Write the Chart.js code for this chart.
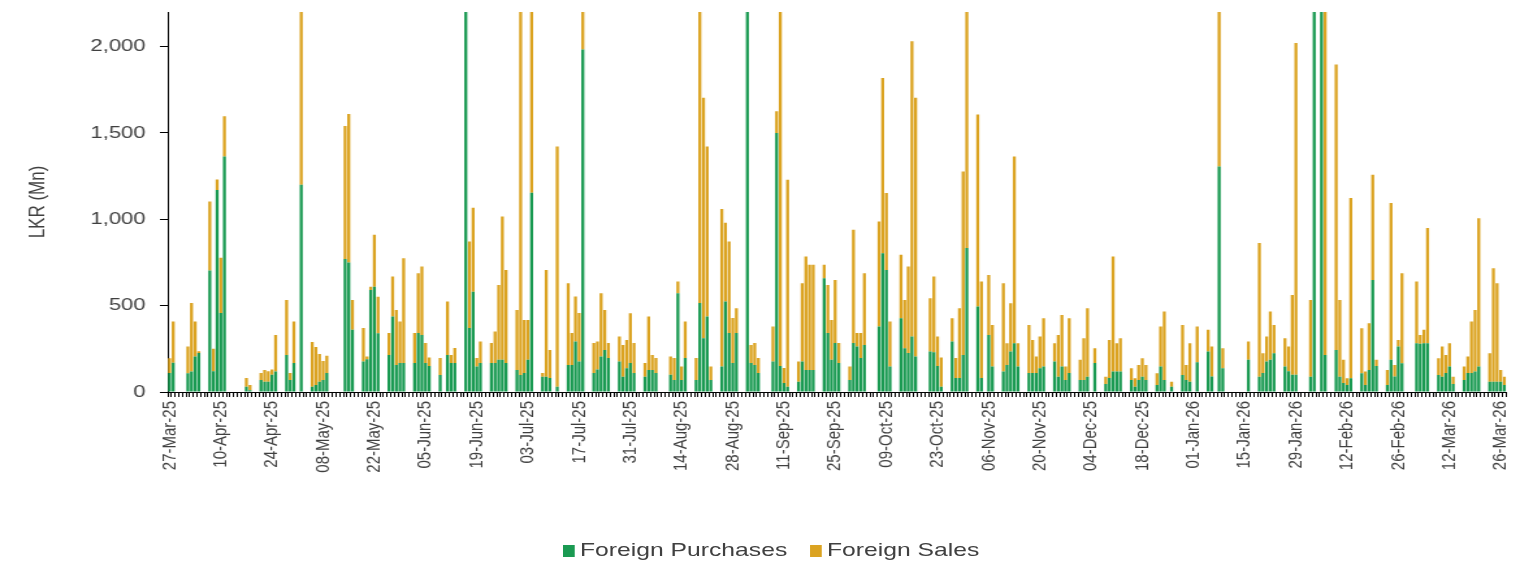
<!DOCTYPE html>
<html>
<head>
<meta charset="utf-8">
<script src="https://cdn.jsdelivr.net/npm/chart.js@4.4.1/dist/chart.umd.min.js"></script>
<style>
html,body{margin:0;padding:0;background:#fff;}
#stretch{position:relative;width:1179px;height:568px;transform:scaleX(1.30025);transform-origin:0 0;}
#legend span{position:absolute;font-family:"Liberation Sans",sans-serif;font-size:19px;color:#404040;white-space:nowrap;}
#legend i{position:absolute;width:9px;height:12px;}
</style>
</head>
<body>
<div id="stretch">
<canvas id="graficaFlujos" width="1179" height="568"></canvas>
<div id="legend">
  <i style="left:433px;top:545px;background:#1A9A52"></i><span style="left:446px;top:539px">Foreign Purchases</span>
  <i style="left:623px;top:545px;background:#DBA321"></i><span style="left:636px;top:539px">Foreign Sales</span>
</div>
</div>
<script>
// LKR Mn por día (27-Mar-25 .. 27-Mar-26), una fila = una semana jue..mié
const purchases = [
110,170,0,0,0,108,118,
205,226,0,0,703,120,1170,
458,1364,0,0,0,0,0,
30,10,0,0,70,60,60,
100,118,0,0,214,70,168,
0,1200,0,0,30,40,60,
70,110,0,0,0,0,770,
750,360,0,0,176,190,590,
610,340,0,0,214,437,157,
168,168,0,0,168,342,330,
168,150,0,0,99,0,214,
168,168,0,0,2300,371,581,
147,168,0,0,168,168,186,
186,168,0,0,128,99,110,
186,1153,0,0,89,89,81,
0,30,0,0,157,157,292,
176,1983,0,0,110,130,205,
243,197,0,0,176,89,137,
168,110,0,0,89,128,128,
110,0,0,0,100,70,572,
70,197,0,0,70,515,311,
437,70,0,0,147,524,342,
168,342,0,0,2300,168,157,
110,0,0,0,176,1500,150,
52,30,0,0,60,176,128,
128,128,0,0,659,342,186,
284,168,0,0,70,284,263,
197,272,0,0,0,379,804,
707,147,0,0,427,253,226,
321,205,0,0,0,234,230,
150,30,0,0,292,81,81,
214,833,0,0,495,81,0,
330,147,0,0,118,157,234,
282,147,0,0,110,110,110,
137,147,0,0,176,89,147,
70,110,0,0,70,70,89,
0,168,0,0,47,81,118,
118,118,0,0,70,30,70,
89,70,0,0,40,147,70,
0,30,0,0,99,70,60,
0,172,0,0,234,90,0,
1306,137,0,0,0,0,0,
0,186,0,0,89,110,176,
186,224,0,0,147,120,100,
100,0,0,0,89,2300,0,
2300,214,0,0,243,89,52,
40,79,0,0,108,40,128,
649,150,0,0,41,186,90,
263,166,0,0,0,282,280,
282,282,0,0,99,89,110,
147,47,0,0,70,110,110,
118,147,0,0,60,60,60,
60,40
];
const sales = [
85,238,0,0,0,155,397,
203,10,0,0,400,130,60,
319,232,0,0,0,0,0,
51,30,0,0,40,68,60,
30,212,0,0,319,40,240,
0,1150,0,0,260,220,160,
110,100,0,0,0,0,770,
860,173,0,0,195,15,20,
300,211,0,0,128,232,318,
240,607,0,0,174,346,397,
116,50,0,0,98,0,310,
46,87,0,0,10,500,485,
50,124,0,0,116,182,434,
830,539,0,0,347,2250,307,
231,1200,0,0,21,618,162,
0,1392,0,0,473,185,261,
282,400,0,0,174,162,367,
232,87,0,0,145,183,164,
288,174,0,0,79,309,86,
87,0,0,0,105,127,68,
77,211,0,0,127,1850,1392,
985,77,0,0,913,456,529,
261,143,0,0,20,104,127,
87,0,0,0,203,125,2200,
87,1199,0,0,116,454,657,
608,608,0,0,77,278,231,
365,116,0,0,77,655,79,
145,416,0,0,0,608,1014,
445,261,0,0,367,280,501,
1710,1498,0,0,0,309,439,
171,170,0,0,135,116,404,
1063,1500,0,0,1111,559,0,
348,241,0,0,512,125,280,
1082,135,0,0,278,191,95,
184,280,0,0,106,241,299,
77,317,0,0,116,241,396,
0,85,0,0,42,220,667,
164,193,0,0,67,49,87,
106,87,0,0,68,232,396,
0,30,0,0,289,87,222,
0,207,0,0,126,173,0,
1050,116,0,0,0,0,0,
0,106,0,0,773,114,145,
280,164,0,0,164,143,462,
1921,0,0,0,444,20,0,
20,2150,0,0,1653,444,134,
39,1044,0,0,261,78,270,
609,36,0,0,87,908,67,
38,522,0,0,0,358,50,
78,667,0,0,96,174,104,
135,42,0,0,77,95,298,
357,859,0,0,164,657,570,
68,49
];
const tickLabels = ["27-Mar-25","10-Apr-25","24-Apr-25","08-May-25","22-May-25","05-Jun-25","19-Jun-25",
  "03-Jul-25","17-Jul-25","31-Jul-25","14-Aug-25","28-Aug-25","11-Sep-25","25-Sep-25","09-Oct-25",
  "23-Oct-25","06-Nov-25","20-Nov-25","04-Dec-25","18-Dec-25","01-Jan-26","15-Jan-26","29-Jan-26",
  "12-Feb-26","26-Feb-26","12-Mar-26","26-Mar-26"];
const yTicks = [0, 500, 1000, 1500, 2000];

const days = [];
for (let i = 0; i < purchases.length; i++) {
    const d = new Date(2025, 2, 27 + i);
    days.push(d.getFullYear() + "-" + (d.getMonth() + 1) + "-" + d.getDate());
}

const fuente = "'Liberation Sans', sans-serif";
const ctx1 = document.getElementById("graficaFlujos");
new Chart(ctx1, {
    type: "bar",
    data: {
        labels: days,
        datasets: [
            {label: "Foreign Purchases", data: purchases, backgroundColor: "#1A9A52"},
            {label: "Foreign Sales", data: sales, backgroundColor: "#DBA321"}
        ]
    },
    options: {
        responsive: false,
        animation: false,
        layout: {padding: {top: 12, right: 14, left: 0, bottom: 0}},
        datasets: {bar: {barPercentage: 0.82, categoryPercentage: 1, borderWidth: 0}},
        plugins: {legend: {display: false}, tooltip: {enabled: false}},
        scales: {
            x: {
                stacked: true,
                grid: {display: true, drawOnChartArea: false, drawTicks: true, tickLength: 5, color: "#000", offset: true},
                border: {display: true, color: "#000", width: 1},
                ticks: {
                    autoSkip: false, minRotation: 90, maxRotation: 90, padding: 4,
                    color: "#404040", font: {family: fuente, size: 15},
                    callback: (v, i) => i % 14 === 0 ? tickLabels[i / 14] : ""
                },
                afterFit: s => { s.height = 176; }
            },
            y: {
                stacked: true, min: 0, max: 2200,
                grid: {display: true, drawOnChartArea: false, drawTicks: true, tickLength: 6, color: "#000"},
                border: {display: true, color: "#000", width: 1},
                ticks: {
                    autoSkip: false, padding: 11, color: "#404040", font: {family: fuente, size: 17},
                    callback: v => v.toLocaleString("en-US")
                },
                afterBuildTicks: s => { s.ticks = yTicks.map(v => ({value: v})); },
                title: {display: true, text: "LKR (Mn)", color: "#404040", font: {family: fuente, size: 17}, padding: {top: 19, bottom: 0}},
                afterFit: s => { s.width = 129; s.paddingTop = 0; s.paddingBottom = 0; }
            }
        }
    }
});
</script>
</body>
</html>
